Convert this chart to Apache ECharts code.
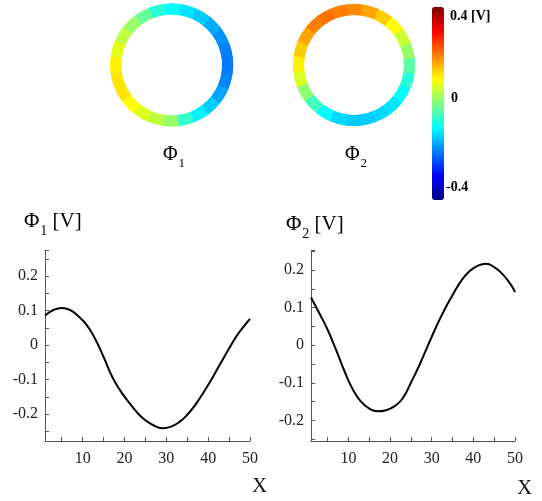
<!DOCTYPE html>
<html>
<head>
<meta charset="utf-8">
<script src="https://cdn.jsdelivr.net/npm/echarts@6/dist/echarts.min.js"></script>
<style>
html,body{margin:0;padding:0;background:#fff;}
#chart{width:542px;height:501px;}
</style>
</head>
<body>
<div id="chart"></div>
<script>
// ---- data ----
const xValues = [1,3,5,7,9,11,13,15,17,19,21,23,25,27,29,31,33,35,37,39,41,43,45,47,49,50];
const phi1 = [0.086,0.102,0.108,0.102,0.084,0.058,0.018,-0.034,-0.090,-0.132,-0.165,-0.195,-0.218,-0.233,-0.241,-0.237,-0.224,-0.202,-0.172,-0.135,-0.095,-0.052,-0.010,0.030,0.062,0.076];
const phi2 = [0.127,0.085,0.041,-0.012,-0.068,-0.117,-0.150,-0.169,-0.176,-0.173,-0.163,-0.142,-0.100,-0.054,-0.003,0.047,0.093,0.133,0.170,0.196,0.211,0.217,0.208,0.189,0.161,0.141];
// ring potentials, every 15 degrees clockwise starting at the top
const ring1 = [-0.10,-0.12,-0.14,-0.165,-0.185,-0.20,-0.205,-0.195,-0.17,-0.14,-0.11,-0.06,0.02,0.05,0.075,0.10,0.12,0.12,0.11,0.08,0.05,0.02,-0.02,-0.07];
const ring2 = [0.19,0.17,0.14,0.10,0.06,0.02,-0.03,-0.07,-0.10,-0.12,-0.13,-0.14,-0.14,-0.13,-0.10,-0.05,0.01,0.07,0.11,0.14,0.17,0.20,0.21,0.20];
const colorMin = -0.4, colorMax = 0.4;
const colorbarLabels = ['0.4 [V]', '0', '-0.4'];
const ringLabels = ['1', '2'];

const jet = ['#00007f','#0000ff','#007fff','#00ffff','#7fff7f','#ffff00','#ff7f00','#ff0000','#7f0000'];
const serif = '"Liberation Serif", "DejaVu Serif", serif';

function pairs(xs, ys){ return xs.map((x,i)=>[x, ys[i]]); }
function ringData(vals){ return vals.map(v=>[1, v]); }

function xAxisCfg(gi){
  return {
    type:'value', gridIndex:gi, min:1, max:50, splitNumber:5,
    axisLine:{show:true, onZero:false, lineStyle:{color:'#555', width:1}},
    axisTick:{show:true, inside:true, length:4, lineStyle:{color:'#555'}},
    minorTick:{show:true, splitNumber:2, length:4, lineStyle:{color:'#555'}},
    splitLine:{show:false},
    axisLabel:{showMinLabel:false, margin:10, fontFamily:serif, fontSize:16, color:'#222'}
  };
}
function yAxisCfg(gi, mn, mx){
  return {
    type:'value', gridIndex:gi, min:mn, max:mx, splitNumber:5,
    axisLine:{show:true, onZero:false, lineStyle:{color:'#555', width:1}},
    axisTick:{show:true, inside:true, length:4, lineStyle:{color:'#555'}},
    minorTick:{show:true, splitNumber:2, length:4, lineStyle:{color:'#555'}},
    splitLine:{show:false},
    axisLabel:{showMinLabel:false, showMaxLabel:false, margin:7, fontFamily:serif, fontSize:16, color:'#222'}
  };
}
function richName(main, sub, extra, size){
  return {
    text:'{a|'+main+'}{b|'+sub+'}'+(extra?'{c|'+extra+'}':''),
    rich:{
      a:{fontFamily:serif, fontSize:size, color:'#111', verticalAlign:'top', lineHeight:size+4},
      b:{fontFamily:serif, fontSize:Math.round(size*0.65), color:'#111', verticalAlign:'top', padding:[Math.round(size*0.6),0,0,1], lineHeight:size+4},
      c:{fontFamily:serif, fontSize:size, color:'#111', verticalAlign:'top', lineHeight:size+4}
    }
  };
}
function txt(x, y, style){
  return {type:'text', x:x, y:y, silent:true, style:style};
}
function ringSeries(vals, center, radius, start){
  return {type:'pie', center:center, radius:radius, startAngle:start, clockwise:true, silent:true,
    data:ringData(vals), encode:{value:0}, label:{show:false}, labelLine:{show:false},
    itemStyle:{borderWidth:0}, emphasis:{disabled:true}};
}

const chart = echarts.init(document.getElementById('chart'), null, {renderer:'canvas'});
const option = {
  backgroundColor:'#ffffff',
  animation:false,
  grid:[
    {left:45, top:250, width:205, height:191},
    {left:311, top:250.5, width:204, height:190.5}
  ],
  xAxis:[xAxisCfg(0), xAxisCfg(1)],
  yAxis:[yAxisCfg(0,-0.278,0.276), yAxisCfg(1,-0.255,0.252)],
  visualMap:{
    type:'continuous', min:colorMin, max:colorMax, seriesIndex:[2,3,4,5], dimension:1,
    calculable:false, left:432, top:7, itemWidth:12, itemHeight:193, padding:0,
    inRange:{color:jet}, text:null, showLabel:false
  },
  series:[
    {type:'line', xAxisIndex:0, yAxisIndex:0, data:pairs(xValues, phi1), smooth:0.5, showSymbol:false, silent:true,
     lineStyle:{color:'#000', width:2}},
    {type:'line', xAxisIndex:1, yAxisIndex:1, data:pairs(xValues, phi2), smooth:0.5, showSymbol:false, silent:true,
     lineStyle:{color:'#000', width:2}},
    // each ring drawn twice with a tiny offset so that slice seams are covered
    ringSeries(ring1, [171.7,65], [50.5,61.5], 97.5),
    ringSeries(ring1, [171.7,65], [50.5,61.5], 96.5),
    ringSeries(ring2, [354,65], [50,61], 97.5),
    ringSeries(ring2, [354,65], [50,61], 96.5)
  ],
  graphic:[
    txt(163, 145, richName('Φ', ringLabels[0], '', 20)),
    txt(345, 145, richName('Φ', ringLabels[1], '', 20)),
    txt(24, 211, richName('Φ', '1', ' [V]', 21)),
    txt(286, 214, richName('Φ', '2', ' [V]', 21)),
    txt(252, 476, {text:'X', fontFamily:serif, fontSize:21, fill:'#111'}),
    txt(517, 478, {text:'X', fontFamily:serif, fontSize:21, fill:'#111'}),
    txt(450, 16, {text:colorbarLabels[0], fontFamily:serif, fontSize:14, fontWeight:'bold', fill:'#000', verticalAlign:'middle'}),
    txt(451, 98, {text:colorbarLabels[1], fontFamily:serif, fontSize:14, fontWeight:'bold', fill:'#000', verticalAlign:'middle'}),
    txt(446, 187, {text:colorbarLabels[2], fontFamily:serif, fontSize:14, fontWeight:'bold', fill:'#000', verticalAlign:'middle'})
  ]
};
chart.setOption(option);
</script>
</body>
</html>
